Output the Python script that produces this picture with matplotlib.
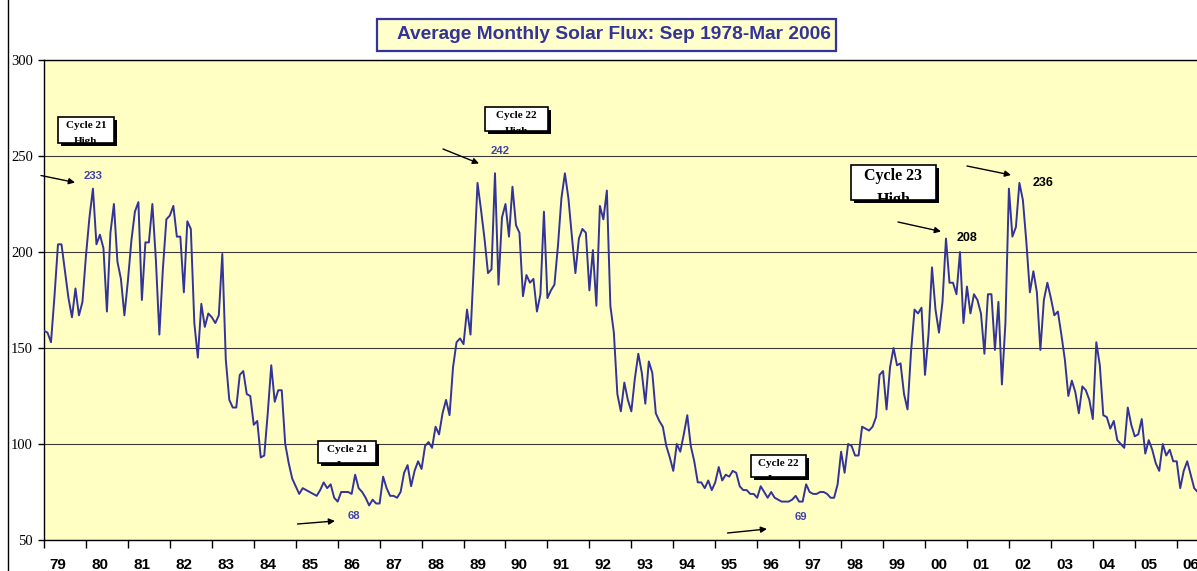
import matplotlib
matplotlib.use('Agg')
import matplotlib.pyplot as plt
from matplotlib.patches import Rectangle, FancyArrowPatch
from matplotlib.lines import Line2D
from matplotlib.transforms import Bbox, TransformedBbox
import numpy as np

# average monthly solar flux, one value per month from Sep 1978 to Mar 2006
flux = [
    159, 158, 153, 177, 204, 204, 190, 176, 166, 181, 167, 174,
    198, 218, 233, 204, 209, 202, 169, 210, 225, 195, 186, 167,
    185, 206, 221, 226, 175, 205, 205, 225, 196, 157, 191, 217,
    219, 224, 208, 208, 179, 216, 212, 163, 145, 173, 161, 168,
    166, 163, 167, 199, 144, 123, 119, 119, 136, 138, 126, 125,
    110, 112, 93, 94, 116, 141, 122, 128, 128, 100, 90, 82,
    78, 74, 77, 76, 75, 74, 73, 76, 80, 77, 79, 72,
    70, 75, 75, 75, 74, 84, 77, 75, 72, 68, 71, 69,
    69, 83, 77, 73, 73, 72, 75, 85, 89, 78, 86, 91,
    87, 99, 101, 98, 109, 105, 116, 123, 115, 140, 153, 155,
    152, 170, 157, 195, 236, 222, 207, 189, 191, 241, 183, 218,
    225, 208, 234, 214, 210, 177, 188, 184, 186, 169, 178, 221,
    176, 180, 183, 203, 228, 241, 228, 208, 189, 207, 212, 210,
    180, 201, 172, 224, 217, 232, 172, 158, 126, 117, 132, 123,
    117, 134, 147, 137, 121, 143, 137, 116, 112, 109, 99, 93,
    86, 100, 96, 105, 115, 99, 91, 80, 80, 77, 81, 76,
    80, 88, 81, 84, 83, 86, 85, 78, 76, 76, 74, 74,
    72, 78, 75, 72, 75, 72, 71, 70, 70, 70, 71, 73,
    70, 70, 79, 75, 74, 74, 75, 75, 74, 72, 72, 79,
    96, 85, 100, 99, 94, 94, 109, 108, 107, 109, 114, 136,
    138, 118, 140, 150, 141, 142, 126, 118, 148, 170, 168, 171,
    136, 157, 192, 170, 158, 174, 207, 184, 184, 178, 200, 163,
    182, 168, 178, 175, 168, 147, 178, 178, 149, 174, 131, 163,
    233, 208, 213, 236, 227, 205, 179, 190, 179, 149, 175, 184,
    176, 167, 169, 157, 144, 125, 133, 127, 116, 130, 128, 123,
    113, 153, 141, 115, 114, 108, 112, 102, 100, 98, 119, 110,
    104, 105, 113, 95, 102, 97, 90, 86, 100, 94, 97, 91,
    91, 77, 86, 91, 84, 77, 75,
]
year_labels = ['79', '80', '81', '82', '83', '84', '85', '86', '87', '88',
               '89', '90', '91', '92', '93', '94', '95', '96', '97', '98',
               '99', '00', '01', '02', '03', '04', '05', '06']
y_ticks = [50, 100, 150, 200, 250, 300]

# callouts: (box text lines, value text)
notes = [
    (['Cycle 21', 'High'], '233'),
    (['Cycle 22', 'High'], '242'),
    (['Cycle 21', 'Low'], '68'),
    (['Cycle 22', 'Low'], '69'),
    (['Cycle 23', 'High'], '208'),
    (None, '236'),
]

W, H = 1197, 571
NAVY = '#333399'
fig = plt.figure(figsize=(W / 100, H / 100), dpi=100)


def fx(x):
    return x / W


def fy(y):
    return 1 - y / H


# plot area: first month sits on the left axis, last month at the right edge
ax = fig.add_axes([fx(44), fy(540), fx(1197.7 - 44), (540 - 60) / H])
ax.set_facecolor('#FFFFC4')
months = np.arange(len(flux))
ax.plot(months, flux, color=NAVY, lw=1.4, zorder=3)

ax.set_xlim(0, len(flux) - 1)
ax.set_ylim(50, 300)
ax.set_yticks(y_ticks)
ax.set_yticklabels([str(v) for v in y_ticks], family='Liberation Serif', fontsize=10.5)
ax.yaxis.grid(True, color='#3a3a3a', lw=0.8)
ax.set_axisbelow(True)
ax.tick_params(axis='y', length=4, width=1, pad=4, colors='black')

ax.set_xticks(months[::12])
ax.set_xticks(months[4::12], minor=True)
ax.set_xticklabels([])
ax.set_xticklabels(year_labels, minor=True, family='Liberation Sans',
                   fontweight='bold', fontsize=11)
ax.tick_params(axis='x', which='major', length=6, width=1, direction='out')
ax.tick_params(axis='x', which='minor', length=0, pad=13)
for s in ax.spines.values():
    s.set_color('black')
    s.set_linewidth(1)

# outer chart border on the left
fig.add_artist(Line2D([fx(7.5), fx(7.5)], [0, 1], transform=fig.transFigure,
                      color='black', lw=1))

# title box
fig.add_artist(Rectangle((fx(377), fy(50.5)), fx(835.5 - 377), (50.5 - 19.5) / H,
                         transform=fig.transFigure, fc='#FFFFCC', ec=NAVY, lw=1.6))
fig.text(fx(397), fy(34.5), 'Average Monthly Solar Flux: Sep 1978-Mar 2006',
         ha='left', va='center', fontsize=13.8, fontweight='bold', color=NAVY,
         family='Liberation Sans')


def note_box(x0, y0, x1, y1, lines, size, gap):
    w, h = fx(x1 - x0), (y1 - y0) / H
    fig.add_artist(Rectangle((fx(x0 + 3), fy(y1 + 3)), w, h, transform=fig.transFigure,
                             fc='black', ec='black', lw=0))
    fig.add_artist(Rectangle((fx(x0), fy(y1)), w, h, transform=fig.transFigure,
                             fc='white', ec='black', lw=1.2))
    clip = TransformedBbox(Bbox([[fx(x0), fy(y1)], [fx(x1), fy(y0)]]), fig.transFigure)
    ty = y0 + (size * 1.39) * 0.55 + 2
    for k, line in enumerate(lines):
        t = fig.text(fx((x0 + x1) / 2), fy(ty + k * gap), line, ha='center', va='center',
                     fontsize=size, fontweight='bold', family='Liberation Serif')
        t.set_clip_box(clip)
        t.set_clip_on(True)


def arrow(x0, y0, x1, y1):
    fig.add_artist(FancyArrowPatch((fx(x0), fy(y0)), (fx(x1), fy(y1)),
                                   transform=fig.transFigure, arrowstyle='-|>',
                                   mutation_scale=9, lw=1, color='black',
                                   shrinkA=0, shrinkB=0))


def value(x, y, txt, color, size):
    fig.text(fx(x), fy(y), txt, ha='center', va='center', fontsize=size,
             fontweight='bold', color=color, family='Liberation Sans')


note_box(58, 117, 114, 143, notes[0][0], 8, 16)
arrow(41, 175.5, 75, 182.5)
value(93.5, 175.5, notes[0][1], '#4040B0', 8.2)

note_box(485, 107, 548, 131, notes[1][0], 8, 16)
arrow(443, 149, 479, 163.5)
value(500, 151, notes[1][1], '#4040B0', 8.2)

note_box(318, 441, 376, 463, notes[2][0], 8, 16.5)
arrow(297.5, 524, 335, 521)
value(354, 516, notes[2][1], '#4040B0', 8.2)

note_box(751, 455, 806, 477, notes[3][0], 8, 16.5)
arrow(727.5, 533, 767, 529)
value(801, 517.5, notes[3][1], '#4040B0', 8.2)

note_box(851, 165, 936, 200, notes[4][0], 11.5, 24)
arrow(898, 222, 941, 231.5)
value(967, 238, notes[4][1], 'black', 9)

arrow(967, 166, 1011, 175)
value(1043, 183.5, notes[5][1], 'black', 9)

fig.savefig('out.png', dpi=100)
